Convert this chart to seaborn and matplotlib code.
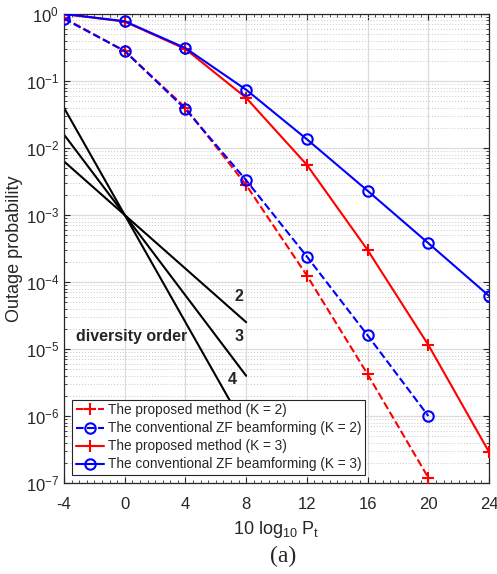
import numpy as np
import pandas as pd
import matplotlib
matplotlib.use("Agg")
import matplotlib.pyplot as plt
from matplotlib.ticker import LogLocator, MultipleLocator, NullFormatter, FixedLocator
import seaborn as sns

# Transmit power (dB)
snr = [-4, 0, 4, 8, 12, 16, 20, 24]

# Outage probability per scheme
proposed_k2 = [0.87, 0.28, 0.040, 2.8e-3, 1.25e-4, 4.2e-6, 1.2e-7]
conv_k2 = [0.85, 0.28, 0.038, 3.3e-3, 2.4e-4, 1.6e-5, 1.0e-6]
proposed_k3 = [1.0, 0.77, 0.30, 0.056, 5.6e-3, 3.0e-4, 1.15e-5, 2.9e-7]
conv_k3 = [1.0, 0.78, 0.31, 0.074, 0.0135, 2.3e-3, 3.8e-4, 6.2e-5]

# Reference slopes: lines through (0 dB, 1e-3)
diversity_orders = [2, 3, 4]
ref_x = [-4, 8]
ref_anchor = 1e-3

legend_labels = [
    "The proposed method (K = 2)",
    "The conventional ZF beamforming (K = 2)",
    "The proposed method (K = 3)",
    "The conventional ZF beamforming (K = 3)",
]

sns.set_theme(style="ticks")
plt.rcParams["font.family"] = ["Liberation Sans", "DejaVu Sans"]
plt.rcParams["mathtext.fontset"] = "custom"
plt.rcParams["mathtext.rm"] = "Liberation Sans"
plt.rcParams["mathtext.it"] = "Liberation Sans"
plt.rcParams["axes.unicode_minus"] = False

fig = plt.figure(figsize=(4.97, 5.74), dpi=100)
ax = fig.add_axes([0.1288, 0.1585, 0.8552, 0.8171])

# Diversity-order reference lines
for d in diversity_orders:
    xs = np.array(ref_x, dtype=float)
    ys = ref_anchor * 10 ** (-d * xs / 10)
    df = pd.DataFrame({"x": xs, "y": ys})
    sns.lineplot(data=df, x="x", y="y", ax=ax, color="black", lw=1.5,
                 zorder=2, legend=False)

series = [
    (snr[:7], proposed_k2, "red", "--", "+"),
    (snr[:7], conv_k2, "blue", "--", "o"),
    (snr, proposed_k3, "red", "-", "+"),
    (snr, conv_k3, "blue", "-", "o"),
]
handles = []
for (xs, ys, col, ls, mk), lab in zip(series, legend_labels):
    df = pd.DataFrame({"x": xs, "y": ys})
    ms = 8.5 if mk == "+" else 7.5
    sns.lineplot(data=df, x="x", y="y", ax=ax, color=col, lw=1.5,
                 linestyle=ls, marker=mk, markersize=ms,
                 markeredgewidth=1.5, markerfacecolor="none",
                 markeredgecolor=col, zorder=3, legend=False)
    h, = ax.plot([], [], color=col, lw=1.5, linestyle=ls, marker=mk,
                 markersize=ms, markeredgewidth=1.5,
                 markerfacecolor="none", markeredgecolor=col)
    handles.append(h)

ax.set_yscale("log")
ax.set_xlim(-4, 24)
ax.set_ylim(1e-7, 1)
ax.xaxis.set_major_locator(FixedLocator(snr))
ax.xaxis.set_minor_locator(MultipleLocator(0.5))
ax.yaxis.set_major_locator(LogLocator(base=10, numticks=10))
ax.yaxis.set_minor_locator(LogLocator(base=10, subs=np.arange(2, 10), numticks=20))
ax.yaxis.set_minor_formatter(NullFormatter())

ax.grid(which="major", color="#dcdcdc", lw=0.9, ls="-")
ax.grid(which="minor", axis="y", color="#c8c8c8", lw=0.7, ls=(0, (1, 2)))
ax.set_axisbelow(True)

ax.tick_params(which="both", direction="in", top=True, right=True,
               labelsize=12, colors="#262626")
ax.tick_params(axis="x", which="major", pad=10)
ax.tick_params(which="major", length=4, width=0.8)
ax.tick_params(which="minor", length=2.2, width=0.6)
for s in ax.spines.values():
    s.set_color("#262626")
    s.set_linewidth(0.9)

ax.set_xlabel(r"10 log$_{10}$ P$_{\rm t}$", fontsize=13, color="#262626", labelpad=5)
ax.set_ylabel("Outage probability", fontsize=13, color="#262626", labelpad=2)

# Slope annotations
ax.text(-3.2, 10 ** -4.82, "diversity order", fontsize=11.5, fontweight="bold",
        va="center", ha="left")
ax.text(7.5, 10 ** -4.22, "2", fontsize=11.5, fontweight="bold", va="center", ha="center")
ax.text(7.5, 10 ** -4.82, "3", fontsize=11.5, fontweight="bold", va="center", ha="center")
ax.text(7.1, 10 ** -5.45, "4", fontsize=11.5, fontweight="bold", va="center", ha="center")

leg = ax.legend(handles, legend_labels, loc="lower left", fontsize=9.8,
                frameon=True, fancybox=False, framealpha=1, edgecolor="#262626",
                handlelength=2.1, handletextpad=0.3, borderpad=0.25,
                labelspacing=0.3, borderaxespad=0.6)
leg.get_frame().set_linewidth(0.8)
leg.set_zorder(5)

fig.text(0.57, 0.031, "(a)", fontsize=17, family="Liberation Serif",
         ha="center", va="center")

fig.savefig("out.png", dpi=100)
